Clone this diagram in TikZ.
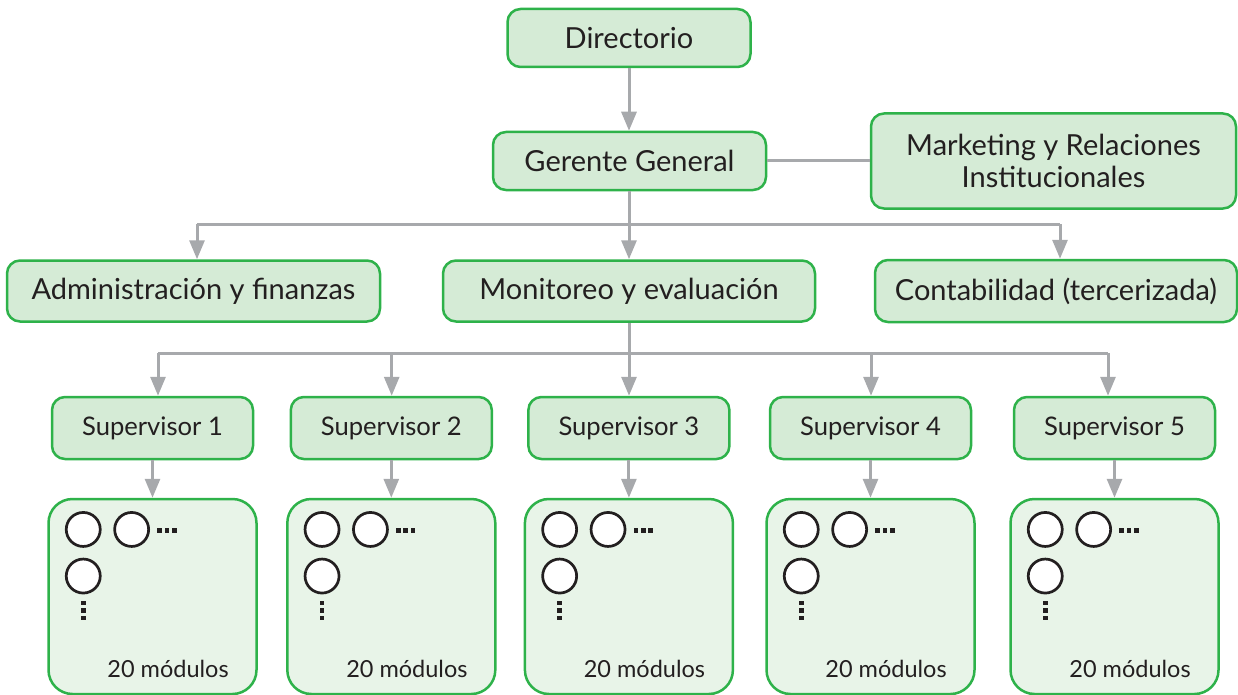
\documentclass[tikz,border=0pt]{standalone}
\usepackage{fontspec}
\setmainfont{Lato}
\usetikzlibrary{arrows.meta}
\definecolor{boxline}{RGB}{46,178,74}
\definecolor{boxfill}{RGB}{213,235,214}
\definecolor{modfill}{RGB}{232,244,232}
\definecolor{linkgray}{RGB}{167,169,172}
\definecolor{ink}{RGB}{35,31,32}
\tikzset{
  unit/.style={draw=boxline, line width=2.5pt, fill=boxfill, rounded corners=13pt,
    text=ink, font=\fontsize{29}{32}\selectfont, inner sep=0pt, align=center},
  supbox/.style={unit, minimum width=201pt, minimum height=62pt,
    font=\fontsize{25.6}{30}\selectfont},
  modbox/.style={draw=boxline, line width=2.5pt, fill=modfill, rounded corners=24pt,
    minimum width=208pt, minimum height=195pt, inner sep=0pt},
  link/.style={draw=linkgray, line width=3pt},
  flow/.style={link, -{Triangle[width=15pt,length=19pt]}},
  seat/.style={draw=ink, line width=2.7pt, fill=white, circle, minimum size=34pt, inner sep=0pt},
  pip/.style={fill=ink, inner sep=0pt, minimum size=4.6pt},
  count/.style={text=ink, font=\fontsize{23.5}{28}\selectfont, inner sep=0pt, anchor=base west}
}
\begin{document}
\begin{tikzpicture}[x=1pt, y=-1pt]
\useasboundingbox (0,0) rectangle (1238,695);

% upper levels
\node[unit, minimum width=243pt, minimum height=58pt] (dir) at (629,38) {Directorio};
\node[unit, minimum width=273pt, minimum height=58pt] (ger) at (629.5,161) {Gerente General};
\node[unit, minimum width=365pt, minimum height=95pt] (mkt) at (1053.5,161)
  {Marketing y Relaciones\\Institucionales};
\node[unit, minimum width=373pt, minimum height=61pt] (adm) at (193.5,291) {Administración y finanzas};
\node[unit, minimum width=372pt, minimum height=61pt] (mon) at (629,291) {Monitoreo y evaluación};
\node[unit, minimum width=362pt, minimum height=62pt] (con) at (1056,291) {Contabilidad (tercerizada)};

\draw[flow] (dir.south) -- (dir.south |- ger.north);
\draw[link] (ger.east) -- (ger.east -| mkt.west);

% branch below the general manager
\coordinate (gj) at (629,224);
\coordinate (ga) at (197,224);
\coordinate (gc) at (1060,224);
\draw[link] (gj |- ger.south) -- (gj);
\draw[link] (ga) -- (gc);
\draw[flow] (ga) -- (ga |- adm.north);
\draw[flow] (gj) -- (gj |- mon.north);
\draw[flow] (gc) -- (gc |- con.north);

% supervisors and their modules
\coordinate (mj) at (629,353);
\draw[link] (mon.south) -- (mj);
\coordinate (s1) at (158,353);
\coordinate (s5) at (1108,353);
\draw[link] (s1) -- (s5);

\foreach \i/\cx/\ax in {1/152.5/158, 2/391.3/391.7, 3/628.9/629, 4/870.5/871, 5/1114.5/1108}{
  \node[supbox] (sup\i) at (\cx,428) {Supervisor \i};
  \node[modbox] (mod\i) at (\cx,596.5) {};
  \coordinate (t\i) at (\ax,353);
  \draw[flow] (t\i) -- (t\i |- sup\i.north);
  \draw[flow] (sup\i.south) -- (mod\i.north);
  \begin{scope}[shift={(mod\i.north west)}]
    \node[seat] (c\i a) at (36,31.7) {};
    \node[seat] (c\i b) at (84.4,31.7) {};
    \node[seat] (c\i c) at (36,78.3) {};
    \foreach \k in {0,1,2}{
      \node[pip] at (112.3+7.4*\k,33) {};
      \node[pip] at (36,105.3+7.4*\k) {};
    }
    \node[count] (n\i) at (60,180) {20 módulos};
  \end{scope}
}
\end{tikzpicture}
\end{document}
